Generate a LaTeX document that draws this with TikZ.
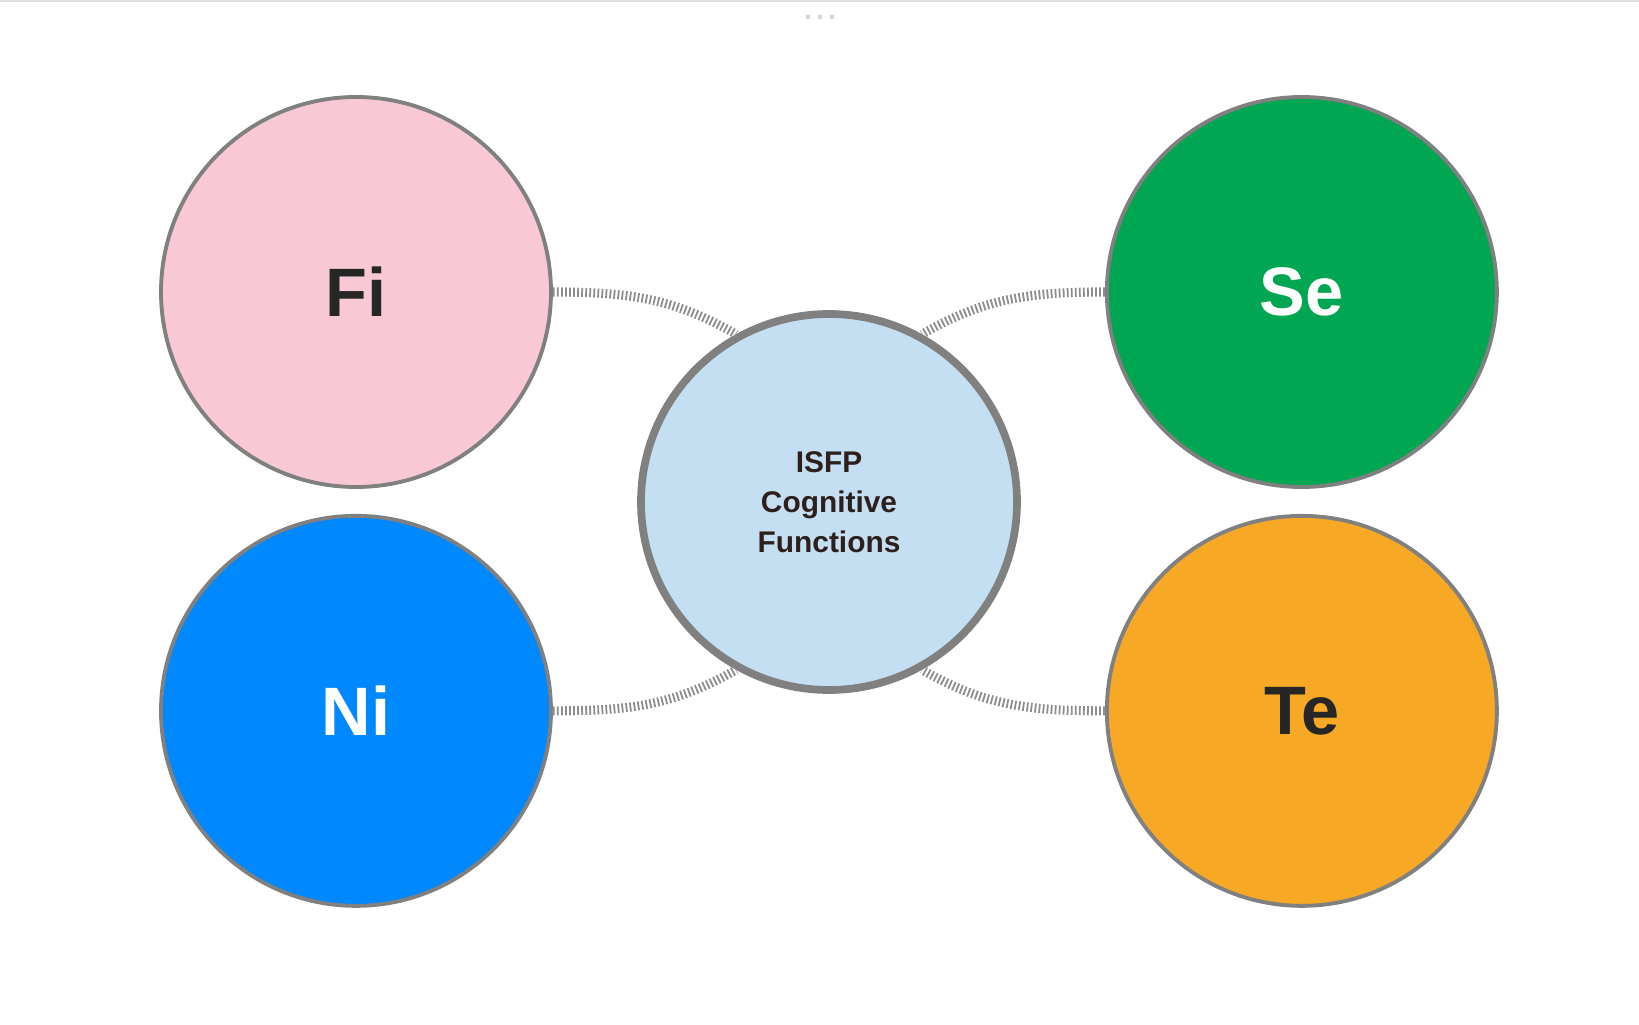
\documentclass[tikz,border=0pt]{standalone}
\usepackage{fontspec}
\setmainfont{Liberation Sans}
\usetikzlibrary{positioning}

\definecolor{fipink}{RGB}{248,200,212}
\definecolor{segreen}{RGB}{0,166,81}
\definecolor{niblue}{RGB}{0,136,255}
\definecolor{teorange}{RGB}{247,168,36}
\definecolor{hubblue}{RGB}{197,223,242}
\definecolor{rimgray}{RGB}{128,128,128}
\definecolor{linkgray}{RGB}{140,140,140}
\definecolor{hubtext}{RGB}{45,32,28}

\begin{document}
\begin{tikzpicture}[node distance = 2.5mm and 55.2mm,
  nodes = {circle, draw=rimgray, line width=1.1pt, inner sep=0pt},
  func/.style = {minimum size=3.9cm,
    font=\fontsize{19.5}{23}\selectfont\bfseries},
  hub/.style = {minimum size=3.76cm, line width=2.2pt, fill=hubblue,
    text=hubtext, align=center,
    font=\fontsize{8.5}{11.4}\selectfont\bfseries},
  link/.style = {draw=linkgray, line width=2.6pt,
    dash pattern=on 0.5pt off 0.65pt}
  ]
  \useasboundingbox (0,0) rectangle (16.39,10.24);
  \draw[black!12, line width=0.6pt] (0,10.23) -- (16.39,10.23);
  \foreach \dx in {-0.12,0,0.12}
    \fill[black!16] (8.20+\dx,10.07) circle (0.025);

  \node (isfp) [hub] at (8.29,5.22) {ISFP\\Cognitive\\Functions};
  \node (fi) [func, fill=fipink, text=black!85] at (3.56,7.32) {Fi};
  \node (ni) [func, fill=niblue, text=white, below=of fi] {Ni};
  \node (se) [func, fill=segreen, text=white, right=of fi] {Se};
  \node (te) [func, fill=teorange, text=black!85, right=of ni] {Te};

  \draw[link] (fi.east) to[out=0, in=150] (isfp.119);
  \draw[link] (se.west) to[out=180, in=30] (isfp.61);
  \draw[link] (ni.east) to[out=0, in=210] (isfp.241);
  \draw[link] (te.west) to[out=180, in=330] (isfp.299);
\end{tikzpicture}
\end{document}
